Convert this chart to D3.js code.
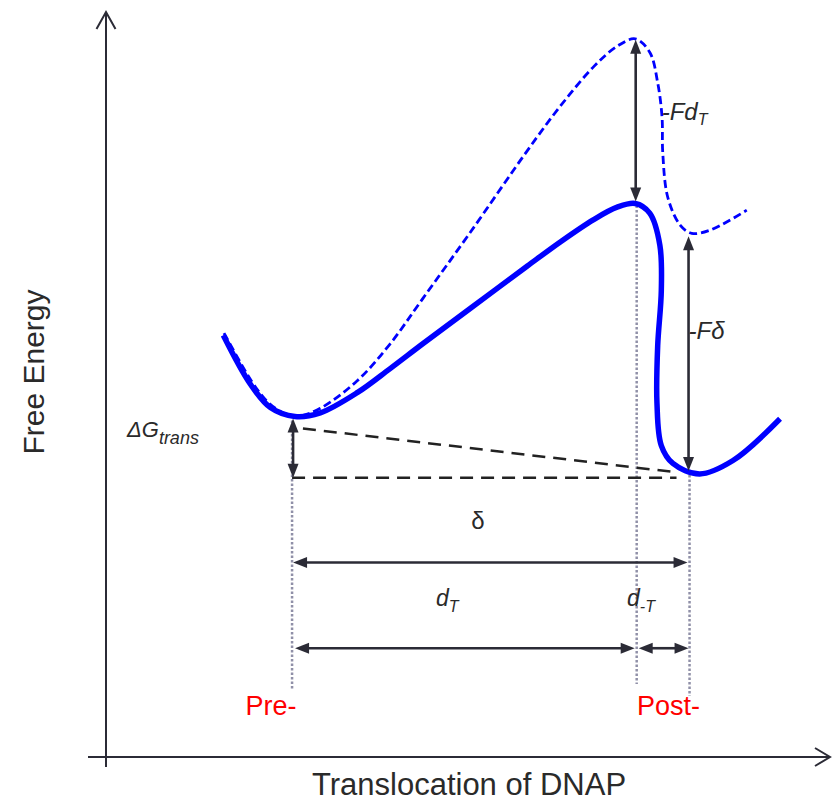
<!DOCTYPE html>
<html>
<head>
<meta charset="utf-8">
<script src="https://cdn.jsdelivr.net/npm/d3@7"></script>
<style>
  body { margin: 0; background: #fff; }
  svg { display: block; }
  text { font-family: "Liberation Sans", Arial, sans-serif; }
</style>
</head>
<body>
<svg id="chart" width="834" height="803"></svg>
<script>
// Free-energy profile along the DNAP translocation coordinate (schematic units 0-100)
const solidPos = [16.2, 19.9, 22.7, 26.1, 29.6, 34.7, 39.2, 43.8, 50.3, 58.2, 62.7, 67.3, 70.6, 73.1, 75.1, 76.5, 76.7, 76.2, 76.1, 76.7, 78.3, 82.0, 86.6, 93.1];
const solidEnergy = [56.6, 50.1, 46.9, 45.7, 46.2, 48.9, 52.1, 55.5, 60.2, 65.9, 69.1, 72.1, 73.8, 74.3, 73.0, 68.7, 62.6, 55.2, 47.5, 41.8, 39.4, 38.0, 39.8, 45.4];

// Same profile tilted by the load force F
const forcedPos = [16.3, 20.2, 22.4, 24.7, 26.8, 29.6, 34.7, 39.2, 43.8, 50.3, 58.2, 62.7, 67.3, 70.6, 73.1, 75.1, 76.2, 76.8, 76.9, 77.6, 79.3, 80.9, 83.4, 88.5];
const forcedEnergy = [56.9, 50.3, 47.6, 46.1, 45.8, 46.8, 50.5, 55.4, 61.6, 70.4, 81.4, 87.3, 92.6, 95.4, 96.4, 94.6, 90.5, 85.9, 81.1, 75.1, 71.4, 70.3, 70.7, 73.4];

// Characteristic states: pre-translocation, transition state, post-translocation
const statePos = [25.7, 73.3, 80.6];
const stateMinEnergy = [45.7, 74.3, 38.0];     // bottom of each state on the free profile
const forcedLevel = [96.4, 70.3];              // transition-state peak and post minimum with load
const stateGuideBottom = [9.1, 9.8, 8.2];      // lower end of the dotted guides
const stateLabels = ["Pre-", "Post-"];

// Reference levels for the ΔG and distance construction
const baseLevel = 37.5;
const slopeStart = [27.2, 44.1];
const slopeEnd = [78.9, 38.2];
const deltaLevel = 26.1;
const distLevel = 14.6;

const svg = d3.select("#chart");
const x = d3.scaleLinear().domain([0, 100]).range([106, 830]);
const y = d3.scaleLinear().domain([0, 100]).range([757, 12]);

const ink = "#2b2b36";

// ---- axes (plain arrows, no ticks)
const axes = svg.append("g").attr("stroke", ink).attr("stroke-width", 2).attr("fill", "none");
axes.append("line").attr("x1", x(0)).attr("x2", x(0)).attr("y1", y(0) + 10).attr("y2", y(100));
axes.append("line").attr("x1", x(0) - 18).attr("x2", x(100)).attr("y1", y(0)).attr("y2", y(0));
axes.append("path").attr("d", `M${x(0) - 9.5},${y(100) + 17}L${x(0)},${y(100)}L${x(0) + 9.5},${y(100) + 17}`);
axes.append("path").attr("d", `M${x(100) - 15},${y(0) - 9}L${x(100)},${y(0)}L${x(100) - 15},${y(0) + 9}`);

svg.append("text")
  .attr("x", (x(0) + x(100)) / 2 + 1).attr("y", 795)
  .attr("text-anchor", "middle").attr("font-size", 31).attr("fill", "#2a2a2a")
  .text("Translocation of DNAP");
svg.append("text")
  .attr("transform", `translate(44,${372}) rotate(-90)`)
  .attr("text-anchor", "middle").attr("font-size", 30).attr("fill", "#2a2a2a")
  .text("Free Energy");

// ---- dotted state guides
const guideTop = [y(stateMinEnergy[0]) + 4, y(stateMinEnergy[1]) + 2, y(stateMinEnergy[2]) + 1];
svg.append("g").selectAll("line").data(statePos).join("line")
  .attr("x1", d => x(d)).attr("x2", d => x(d))
  .attr("y1", (d, i) => guideTop[i])
  .attr("y2", (d, i) => y(stateGuideBottom[i]))
  .attr("stroke", "#9090a8").attr("stroke-width", 2.5).attr("stroke-dasharray", "2.5,2");

// ---- black dashed construction lines
const dashG = svg.append("g").attr("stroke", "#222").attr("stroke-width", 2.5)
  .attr("stroke-dasharray", "13,8").attr("fill", "none");
dashG.append("line")
  .attr("x1", x(statePos[0])).attr("y1", y(baseLevel))
  .attr("x2", x(slopeEnd[0] - 0.1)).attr("y2", y(baseLevel));
dashG.append("line")
  .attr("x1", x(slopeStart[0])).attr("y1", y(slopeStart[1]))
  .attr("x2", x(slopeEnd[0])).attr("y2", y(slopeEnd[1]));

// ---- energy curves
const line = d3.line()
  .x(d => x(d[0])).y(d => y(d[1]))
  .curve(d3.curveCatmullRom.alpha(0.5));

svg.append("path")
  .datum(d3.zip(forcedPos, forcedEnergy))
  .attr("d", line)
  .attr("fill", "none").attr("stroke", "#0000ff").attr("stroke-width", 2.8)
  .attr("stroke-dasharray", "8,4");

svg.append("path")
  .datum(d3.zip(solidPos, solidEnergy))
  .attr("d", line)
  .attr("fill", "none").attr("stroke", "#0000ff").attr("stroke-width", 5.5);

// ---- double-headed arrows
function arrow(x1, y1, x2, y2) {
  const g = svg.append("g");
  const len = Math.hypot(x2 - x1, y2 - y1);
  const ux = (x2 - x1) / len, uy = (y2 - y1) / len;
  const hl = 14, hw = 5.5;
  g.append("line")
    .attr("x1", x1 + ux * (hl - 2)).attr("y1", y1 + uy * (hl - 2))
    .attr("x2", x2 - ux * (hl - 2)).attr("y2", y2 - uy * (hl - 2))
    .attr("stroke", ink).attr("stroke-width", 2.6);
  const head = (tx, ty, dx, dy) => {
    const bx = tx + dx * hl, by = ty + dy * hl;
    return `M${tx},${ty}L${bx - dy * hw},${by + dx * hw}L${bx + dy * hw},${by - dx * hw}Z`;
  };
  g.append("path").attr("d", head(x1, y1, ux, uy)).attr("fill", ink);
  g.append("path").attr("d", head(x2, y2, -ux, -uy)).attr("fill", ink);
}

// ΔG_trans
arrow(x(statePos[0]) + 1, y(stateMinEnergy[0]) + 2, x(statePos[0]) + 1, y(baseLevel));
// F·d_T
arrow(x(statePos[1]) - 1, y(forcedLevel[0]) + 1, x(statePos[1]) - 1, y(stateMinEnergy[1]) - 2);
// F·δ
arrow(x(statePos[2]) - 1, y(forcedLevel[1]) + 3, x(statePos[2]) - 1, y(stateMinEnergy[2]) - 3);
// δ
arrow(x(statePos[0]) + 1, y(deltaLevel), x(statePos[2]) - 2, y(deltaLevel));
// d_T and d_-T
arrow(x(statePos[0]) + 3, y(distLevel), x(statePos[1]) - 2, y(distLevel));
arrow(x(statePos[1]) + 2, y(distLevel), x(statePos[2]) - 1, y(distLevel));

// ---- labels
const lab = svg.append("g").attr("fill", "#2a2a2a");

const dG = lab.append("text").attr("x", 127).attr("y", 437).attr("font-style", "italic").attr("font-size", 22);
dG.append("tspan").text("ΔG");
dG.append("tspan").attr("font-size", 18).attr("dy", 7).text("trans");

const fdt = lab.append("text").attr("x", x(statePos[1]) + 25).attr("y", 120)
  .attr("font-style", "italic").attr("font-size", 24);
fdt.append("tspan").text("-Fd");
fdt.append("tspan").attr("font-size", 16).attr("dy", 5).text("T");

lab.append("text").attr("x", x(statePos[2]) - 1).attr("y", 339)
  .attr("font-style", "italic").attr("font-size", 24).text("-Fδ");

lab.append("text").attr("x", 478).attr("y", y(deltaLevel) - 34)
  .attr("text-anchor", "middle").attr("font-size", 24).text("δ");

const dT = lab.append("text").attr("x", 436).attr("y", y(distLevel) - 42)
  .attr("font-style", "italic").attr("font-size", 23);
dT.append("tspan").text("d");
dT.append("tspan").attr("font-size", 16).attr("dy", 6).text("T");

const dmT = lab.append("text").attr("x", 627).attr("y", y(distLevel) - 42)
  .attr("font-style", "italic").attr("font-size", 23);
dmT.append("tspan").text("d");
dmT.append("tspan").attr("font-size", 16).attr("dy", 6).text("-T");

// red state names under the guides
svg.append("g").selectAll("text").data(stateLabels).join("text")
  .attr("x", (d, i) => x(statePos[i * 2]) - 21)
  .attr("y", 715)
  .attr("text-anchor", "middle").attr("font-size", 27).attr("fill", "#ff0000")
  .text(d => d);
</script>
</body>
</html>
